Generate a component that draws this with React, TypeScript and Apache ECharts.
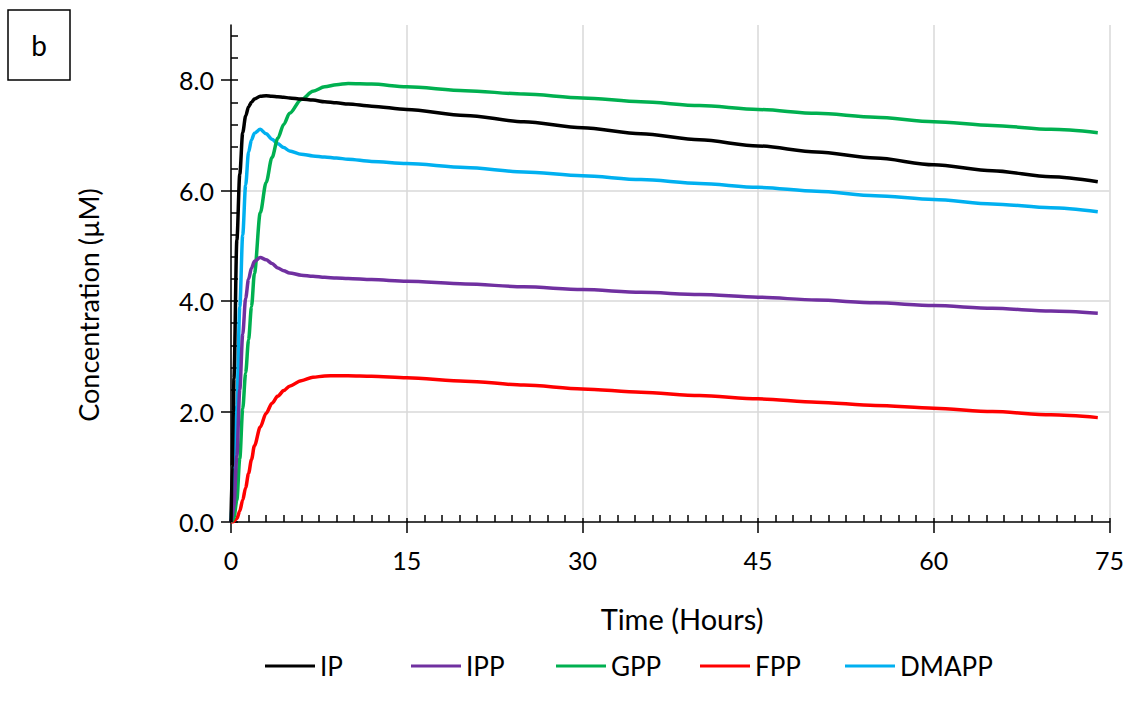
import React, { useEffect, useRef } from "react";
import * as echarts from "echarts";

const timeHours = [0, 0.1, 0.2, 0.25, 0.5, 0.75, 1, 1.25, 1.5, 1.75, 2, 2.5, 3, 3.5, 4, 4.5, 5, 6, 7, 8, 9, 10, 12, 15, 20, 25, 30, 35, 40, 45, 50, 55, 60, 65, 70, 74];
const ipValues = [0, 1.0, 2.0, 2.6, 5.1, 6.3, 7.05, 7.35, 7.52, 7.6, 7.66, 7.71, 7.72, 7.71, 7.7, 7.69, 7.68, 7.66, 7.64, 7.61, 7.59, 7.57, 7.53, 7.47, 7.36, 7.25, 7.14, 7.03, 6.92, 6.81, 6.7, 6.59, 6.47, 6.36, 6.25, 6.16];
const ippValues = [0, 0.1, 0.22, 0.3, 1.2, 2.4, 3.4, 4.05, 4.4, 4.6, 4.72, 4.79, 4.75, 4.68, 4.6, 4.55, 4.51, 4.47, 4.45, 4.43, 4.42, 4.41, 4.39, 4.36, 4.31, 4.26, 4.21, 4.16, 4.12, 4.07, 4.02, 3.97, 3.92, 3.87, 3.82, 3.78];
const gppValues = [0, 0.02, 0.05, 0.08, 0.4, 1.15, 2.05, 2.7, 3.3, 3.9, 4.5, 5.6, 6.15, 6.6, 6.95, 7.2, 7.4, 7.65, 7.8, 7.88, 7.92, 7.94, 7.93, 7.88, 7.81, 7.75, 7.68, 7.61, 7.54, 7.47, 7.4, 7.33, 7.25, 7.18, 7.11, 7.05];
const fppValues = [0, 0, 0.005, 0.01, 0.06, 0.2, 0.4, 0.62, 0.88, 1.13, 1.38, 1.72, 1.97, 2.15, 2.28, 2.38, 2.46, 2.56, 2.62, 2.645, 2.65, 2.65, 2.64, 2.61, 2.55, 2.48, 2.41, 2.35, 2.29, 2.23, 2.17, 2.11, 2.06, 2.0, 1.94, 1.89];
const dmappValues = [0, 0.4, 0.8, 1.0, 2.1, 3.9, 5.2, 6.1, 6.7, 6.92, 7.04, 7.11, 7.03, 6.93, 6.85, 6.78, 6.72, 6.66, 6.63, 6.61, 6.59, 6.57, 6.53, 6.49, 6.42, 6.34, 6.27, 6.2, 6.13, 6.06, 5.99, 5.91, 5.84, 5.76, 5.69, 5.62];

const seriesNames = ["IP", "IPP", "GPP", "FPP", "DMAPP"];
const seriesColors = ["#000000", "#7030A0", "#00B050", "#FF0000", "#00B0F0"];
const seriesValues = [ipValues, ippValues, gppValues, fppValues, dmappValues];

const xMajorTicks = [0, 15, 30, 45, 60, 75];
const yMajorTicks = [0, 2, 4, 6, 8];
const xMinorStep = 1.5;
const yMinorStep = 0.4;

const FONT = "Lato";

export default function App() {
  const ref = useRef<HTMLDivElement>(null);
  useEffect(() => {
    if (!ref.current) return;
    const chart = echarts.init(ref.current, null, { renderer: "svg" });

    const xMinor: number[] = [];
    for (let i = 0; i * xMinorStep <= 75 + 1e-9; i++) {
      const v = Math.round(i * xMinorStep * 10) / 10;
      if (Math.abs(v / 15 - Math.round(v / 15)) > 1e-6) xMinor.push(v);
    }
    const yMinor: number[] = [];
    for (let i = 0; i * yMinorStep <= 8.8 + 1e-9; i++) {
      yMinor.push(Math.round(i * yMinorStep * 10) / 10);
    }

    const legendLefts = [265, 411, 556, 700, 845];

    const option: any = {
      animation: false,
      backgroundColor: "#ffffff",
      grid: { left: 231, right: 17, top: 25, bottom: 184, containLabel: false },
      xAxis: [
        {
          type: "value", min: 0, max: 75, interval: 15,
          axisLine: { show: true, lineStyle: { color: "#000", width: 1.5 } },
          axisTick: { show: true, inside: false, length: 11, lineStyle: { color: "#000", width: 1.5 } },
          axisLabel: { show: true, margin: 25, fontSize: 25, fontFamily: FONT, color: "#000" },
          splitLine: { show: true, lineStyle: { color: "#d9d9d9", width: 1.5 } },
        },
        {
          type: "value", min: 0, max: 75, interval: 15, position: "bottom",
          axisLine: { show: false },
          axisTick: { show: true, inside: true, length: 4, customValues: xMajorTicks, lineStyle: { color: "#000", width: 1.5 } },
          axisLabel: { show: false },
          splitLine: { show: false },
        },
        {
          type: "value", min: 0, max: 75, interval: 15, position: "bottom",
          axisLine: { show: false },
          axisTick: { show: true, inside: true, length: 7, customValues: xMinor, lineStyle: { color: "#000", width: 1.5 } },
          axisLabel: { show: false },
          splitLine: { show: false },
        },
      ],
      yAxis: [
        {
          type: "value", min: 0, max: 9, interval: 2,
          axisLine: { show: true, lineStyle: { color: "#000", width: 1.5 } },
          axisTick: { show: true, inside: false, length: 10, customValues: yMajorTicks, lineStyle: { color: "#000", width: 1.5 } },
          axisLabel: {
            show: true, margin: 17, fontSize: 25, fontFamily: FONT, color: "#000",
            customValues: yMajorTicks,
            formatter: (v: number) => v.toFixed(1),
          },
          splitLine: { show: true, showMaxLine: false, showMinLine: false, lineStyle: { color: "#d9d9d9", width: 1.5 } },
        },
        {
          type: "value", min: 0, max: 9, interval: 2, position: "left",
          axisLine: { show: false },
          axisTick: { show: true, inside: true, length: 7, customValues: yMinor, lineStyle: { color: "#000", width: 1.5 } },
          axisLabel: { show: false },
          splitLine: { show: false },
        },
      ],
      legend: seriesNames.map((name, i) => ({
        data: [name],
        left: legendLefts[i],
        top: 651,
        padding: 0,
        icon: "rect",
        itemWidth: 50,
        itemHeight: 3,
        itemGap: 0,
        textStyle: { fontSize: 26, fontFamily: FONT, color: "#000", lineHeight: 30, padding: [0, 0, 0, 0] },
      })),
      series: seriesNames.map((name, i) => ({
        name,
        type: "line",
        xAxisIndex: 0,
        yAxisIndex: 0,
        data: timeHours.map((t, k) => [t, seriesValues[i][k]]),
        showSymbol: false,
        symbol: "none",
        smooth: 0.3,
        smoothMonotone: "x",
        lineStyle: { color: seriesColors[i], width: 3.5 },
        itemStyle: { color: seriesColors[i] },
        z: 10 - i,
      })),
      graphic: [
        {
          type: "rect",
          shape: { x: 8, y: 10, width: 62, height: 70 },
          style: { fill: "#fff", stroke: "#000", lineWidth: 1.5 },
        },
        {
          type: "text",
          x: 39, y: 45,
          style: { text: "b", fontSize: 28, fontFamily: FONT, fill: "#000", align: "center", verticalAlign: "middle" },
        },
        {
          type: "text",
          x: 88, y: 305,
          rotation: Math.PI / 2,
          style: { text: "Concentration (µM)", fontSize: 27, fontFamily: FONT, fill: "#000", align: "center", verticalAlign: "middle" },
        },
        {
          type: "text",
          x: 682, y: 618,
          style: { text: "Time (Hours)", fontSize: 29, fontFamily: FONT, fill: "#000", align: "center", verticalAlign: "middle" },
        },
      ],
    };
    chart.setOption(option);
    return () => chart.dispose();
  }, []);
  return <div ref={ref} style={{ width: 1127, height: 706, position: "absolute", left: 0, top: 0 }} />;
}
